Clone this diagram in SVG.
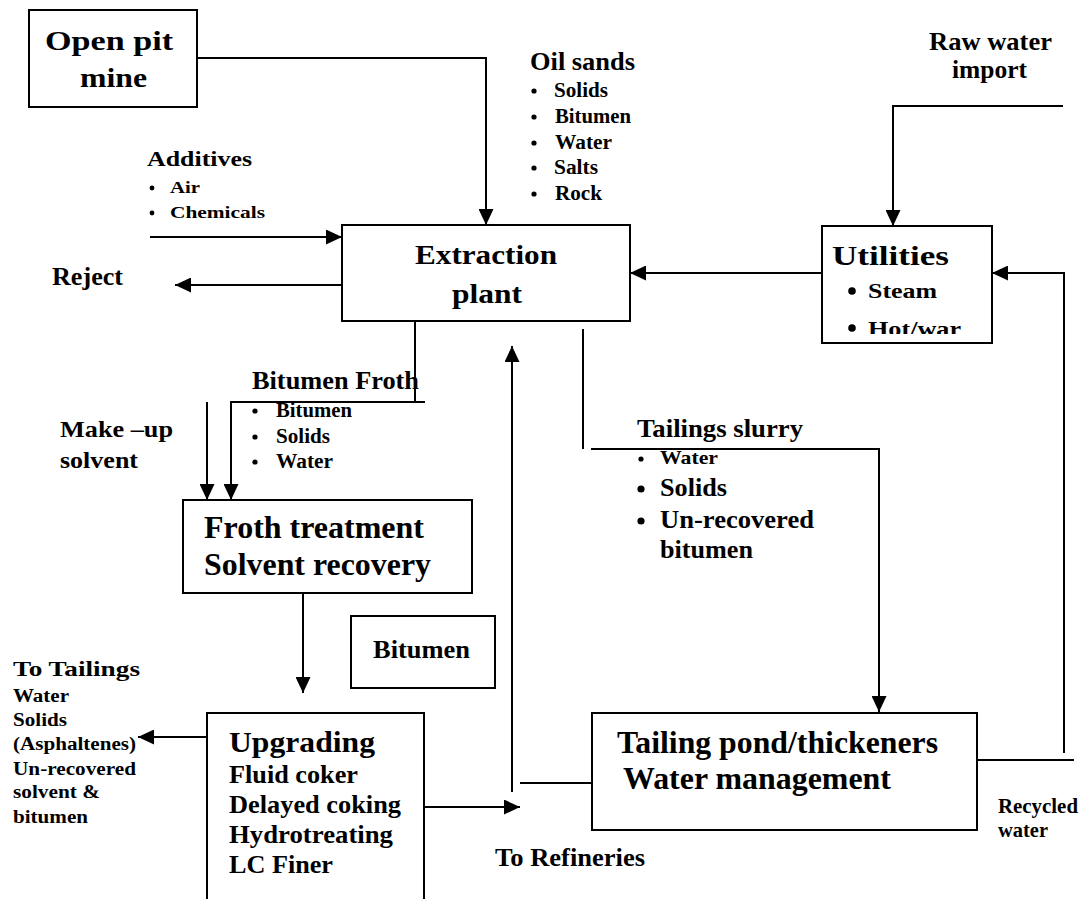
<svg xmlns="http://www.w3.org/2000/svg" width="1084" height="899" viewBox="0 0 1084 899">
<style>
text{font-family:"Liberation Serif","Times New Roman",serif;font-weight:bold;fill:#000}
.box{fill:#fff;stroke:#000;stroke-width:2}
.ln{fill:none;stroke:#000;stroke-width:2}
.b{fill:#000}
</style>
<defs>
<marker id="ah" markerUnits="userSpaceOnUse" markerWidth="16" markerHeight="15" refX="16" refY="7.5" orient="auto">
<path d="M0,0 L16,7.5 L0,15 z" fill="#000"/>
</marker>
<clipPath id="clipHot" clipPathUnits="userSpaceOnUse"><rect x="840" y="300" width="150" height="34"/></clipPath>
</defs>
<rect width="1084" height="899" fill="#fff"/>

<g id="connectors">
<path class="ln" d="M197,58 H486 V225" marker-end="url(#ah)"/>
<path class="ln" d="M150,237 H342" marker-end="url(#ah)"/>
<path class="ln" d="M342,285 H175" marker-end="url(#ah)"/>
<path class="ln" d="M822,273 H630" marker-end="url(#ah)"/>
<path class="ln" d="M1063,106 H893 V226" marker-end="url(#ah)"/>
<path class="ln" d="M977,760 H1074"/>
<path class="ln" d="M1064,753 V273 H992" marker-end="url(#ah)"/>
<path class="ln" d="M415,321 V402"/>
<path class="ln" d="M425,402 H231 V500" marker-end="url(#ah)"/>
<path class="ln" d="M207,402 V500" marker-end="url(#ah)"/>
<path class="ln" d="M303,593 V693" marker-end="url(#ah)"/>
<path class="ln" d="M207,737 H138" marker-end="url(#ah)"/>
<path class="ln" d="M424,807 H520" marker-end="url(#ah)"/>
<path class="ln" d="M512,792 V346" marker-end="url(#ah)"/>
<path class="ln" d="M592,783 H520"/>
<path class="ln" d="M583,329 V449"/>
<path class="ln" d="M591,449 H879 V712" marker-end="url(#ah)"/>
</g>

<g id="open-pit-mine">
<rect class="box" x="29" y="10" width="168" height="97"/>
<text x="45" y="50" font-size="28" textLength="128" lengthAdjust="spacingAndGlyphs">Open pit</text>
<text x="80" y="87" font-size="28" textLength="67" lengthAdjust="spacingAndGlyphs">mine</text>
</g>

<g id="oil-sands">
<text x="530" y="70" font-size="25" textLength="105" lengthAdjust="spacingAndGlyphs">Oil sands</text>
<circle class="b" cx="534" cy="91" r="2.6"/>
<text x="554" y="97" font-size="20" textLength="54" lengthAdjust="spacingAndGlyphs">Solids</text>
<circle class="b" cx="534" cy="117" r="2.6"/>
<text x="555" y="123" font-size="20" textLength="76" lengthAdjust="spacingAndGlyphs">Bitumen</text>
<circle class="b" cx="534" cy="143" r="2.6"/>
<text x="555" y="149" font-size="20" textLength="57" lengthAdjust="spacingAndGlyphs">Water</text>
<circle class="b" cx="534" cy="168" r="2.6"/>
<text x="554" y="174" font-size="20" textLength="44" lengthAdjust="spacingAndGlyphs">Salts</text>
<circle class="b" cx="534" cy="194" r="2.6"/>
<text x="555" y="200" font-size="20" textLength="47" lengthAdjust="spacingAndGlyphs">Rock</text>
</g>

<g id="raw-water-import">
<text x="929" y="50" font-size="25" textLength="123" lengthAdjust="spacingAndGlyphs">Raw water</text>
<text x="952" y="78" font-size="25" textLength="75" lengthAdjust="spacingAndGlyphs">import</text>
</g>

<g id="additives">
<text x="147" y="166" font-size="21" textLength="105" lengthAdjust="spacingAndGlyphs">Additives</text>
<circle class="b" cx="152" cy="188" r="2.4"/>
<text x="170" y="193" font-size="16" textLength="30" lengthAdjust="spacingAndGlyphs">Air</text>
<circle class="b" cx="152" cy="213" r="2.4"/>
<text x="170" y="218" font-size="16" textLength="95" lengthAdjust="spacingAndGlyphs">Chemicals</text>
</g>

<g id="reject">
<text x="52" y="285" font-size="25" textLength="71" lengthAdjust="spacingAndGlyphs">Reject</text>
</g>

<g id="extraction-plant">
<rect class="box" x="342" y="225" width="288" height="96"/>
<text x="415" y="264" font-size="27" textLength="142" lengthAdjust="spacingAndGlyphs">Extraction</text>
<text x="452" y="303" font-size="27" textLength="70" lengthAdjust="spacingAndGlyphs">plant</text>
</g>

<g id="utilities">
<rect class="box" x="822" y="226" width="170" height="117"/>
<text x="832" y="265" font-size="27" textLength="117" lengthAdjust="spacingAndGlyphs">Utilities</text>
<circle class="b" cx="852" cy="291" r="3.8"/>
<text x="868" y="298" font-size="22" textLength="69" lengthAdjust="spacingAndGlyphs">Steam</text>
<circle class="b" cx="852" cy="328" r="3.8"/>
<g clip-path="url(#clipHot)">
<text x="868" y="336" font-size="22" textLength="93" lengthAdjust="spacingAndGlyphs">Hot/war</text>
</g>
</g>

<g id="bitumen-froth">
<text x="252" y="389" font-size="26" textLength="167" lengthAdjust="spacingAndGlyphs">Bitumen Froth</text>
<circle class="b" cx="255" cy="411" r="2.6"/>
<text x="276" y="417" font-size="20" textLength="76" lengthAdjust="spacingAndGlyphs">Bitumen</text>
<circle class="b" cx="255" cy="437" r="2.6"/>
<text x="276" y="443" font-size="20" textLength="54" lengthAdjust="spacingAndGlyphs">Solids</text>
<circle class="b" cx="255" cy="462" r="2.6"/>
<text x="276" y="468" font-size="20" textLength="57" lengthAdjust="spacingAndGlyphs">Water</text>
</g>

<g id="make-up-solvent">
<text x="60" y="437" font-size="24" textLength="113" lengthAdjust="spacingAndGlyphs">Make –up</text>
<text x="60" y="468" font-size="24" textLength="78" lengthAdjust="spacingAndGlyphs">solvent</text>
</g>

<g id="froth-treatment">
<rect class="box" x="183" y="500" width="289" height="93"/>
<text x="204" y="538" font-size="31" textLength="220" lengthAdjust="spacingAndGlyphs">Froth treatment</text>
<text x="204" y="575" font-size="31" textLength="227" lengthAdjust="spacingAndGlyphs">Solvent recovery</text>
</g>

<g id="tailings-slurry">
<text x="637" y="437" font-size="25" textLength="166" lengthAdjust="spacingAndGlyphs">Tailings slurry</text>
<circle class="b" cx="641" cy="459" r="2.6"/>
<text x="660" y="464" font-size="19" textLength="58" lengthAdjust="spacingAndGlyphs">Water</text>
<circle class="b" cx="641" cy="489" r="3.6"/>
<text x="660" y="496" font-size="25" textLength="67" lengthAdjust="spacingAndGlyphs">Solids</text>
<circle class="b" cx="641" cy="521" r="3.6"/>
<text x="660" y="528" font-size="25" textLength="154" lengthAdjust="spacingAndGlyphs">Un-recovered</text>
<text x="660" y="558" font-size="25" textLength="93" lengthAdjust="spacingAndGlyphs">bitumen</text>
</g>

<g id="bitumen">
<rect class="box" x="351" y="616" width="144" height="72"/>
<text x="373" y="658" font-size="25" textLength="97" lengthAdjust="spacingAndGlyphs">Bitumen</text>
</g>

<g id="to-tailings">
<text x="13" y="676" font-size="22" textLength="127" lengthAdjust="spacingAndGlyphs">To Tailings</text>
<text x="13" y="702" font-size="18" textLength="56" lengthAdjust="spacingAndGlyphs">Water</text>
<text x="13" y="726" font-size="18" textLength="54" lengthAdjust="spacingAndGlyphs">Solids</text>
<text x="13" y="750" font-size="18" textLength="123" lengthAdjust="spacingAndGlyphs">(Asphaltenes)</text>
<text x="13" y="775" font-size="18" textLength="123" lengthAdjust="spacingAndGlyphs">Un-recovered</text>
<text x="13" y="798" font-size="18" textLength="87" lengthAdjust="spacingAndGlyphs">solvent &amp;</text>
<text x="13" y="823" font-size="18" textLength="75" lengthAdjust="spacingAndGlyphs">bitumen</text>
</g>

<g id="upgrading">
<path class="box" d="M207,899 V713 H424 V899"/>
<text x="229" y="752" font-size="30" textLength="146" lengthAdjust="spacingAndGlyphs">Upgrading</text>
<text x="229" y="783" font-size="25" textLength="129" lengthAdjust="spacingAndGlyphs">Fluid coker</text>
<text x="229" y="813" font-size="25" textLength="172" lengthAdjust="spacingAndGlyphs">Delayed coking</text>
<text x="229" y="843" font-size="25" textLength="164" lengthAdjust="spacingAndGlyphs">Hydrotreating</text>
<text x="229" y="873" font-size="25" textLength="104" lengthAdjust="spacingAndGlyphs">LC Finer</text>
</g>

<g id="to-refineries">
<text x="495" y="866" font-size="25" textLength="150" lengthAdjust="spacingAndGlyphs">To Refineries</text>
</g>

<g id="tailing-pond">
<rect class="box" x="592" y="713" width="385" height="117"/>
<text x="617" y="753" font-size="31" textLength="321" lengthAdjust="spacingAndGlyphs">Tailing pond/thickeners</text>
<text x="623" y="789" font-size="31" textLength="268" lengthAdjust="spacingAndGlyphs">Water management</text>
</g>

<g id="recycled-water">
<text x="998" y="813" font-size="20" textLength="80" lengthAdjust="spacingAndGlyphs">Recycled</text>
<text x="998" y="837" font-size="20" textLength="50" lengthAdjust="spacingAndGlyphs">water</text>
</g>
</svg>
